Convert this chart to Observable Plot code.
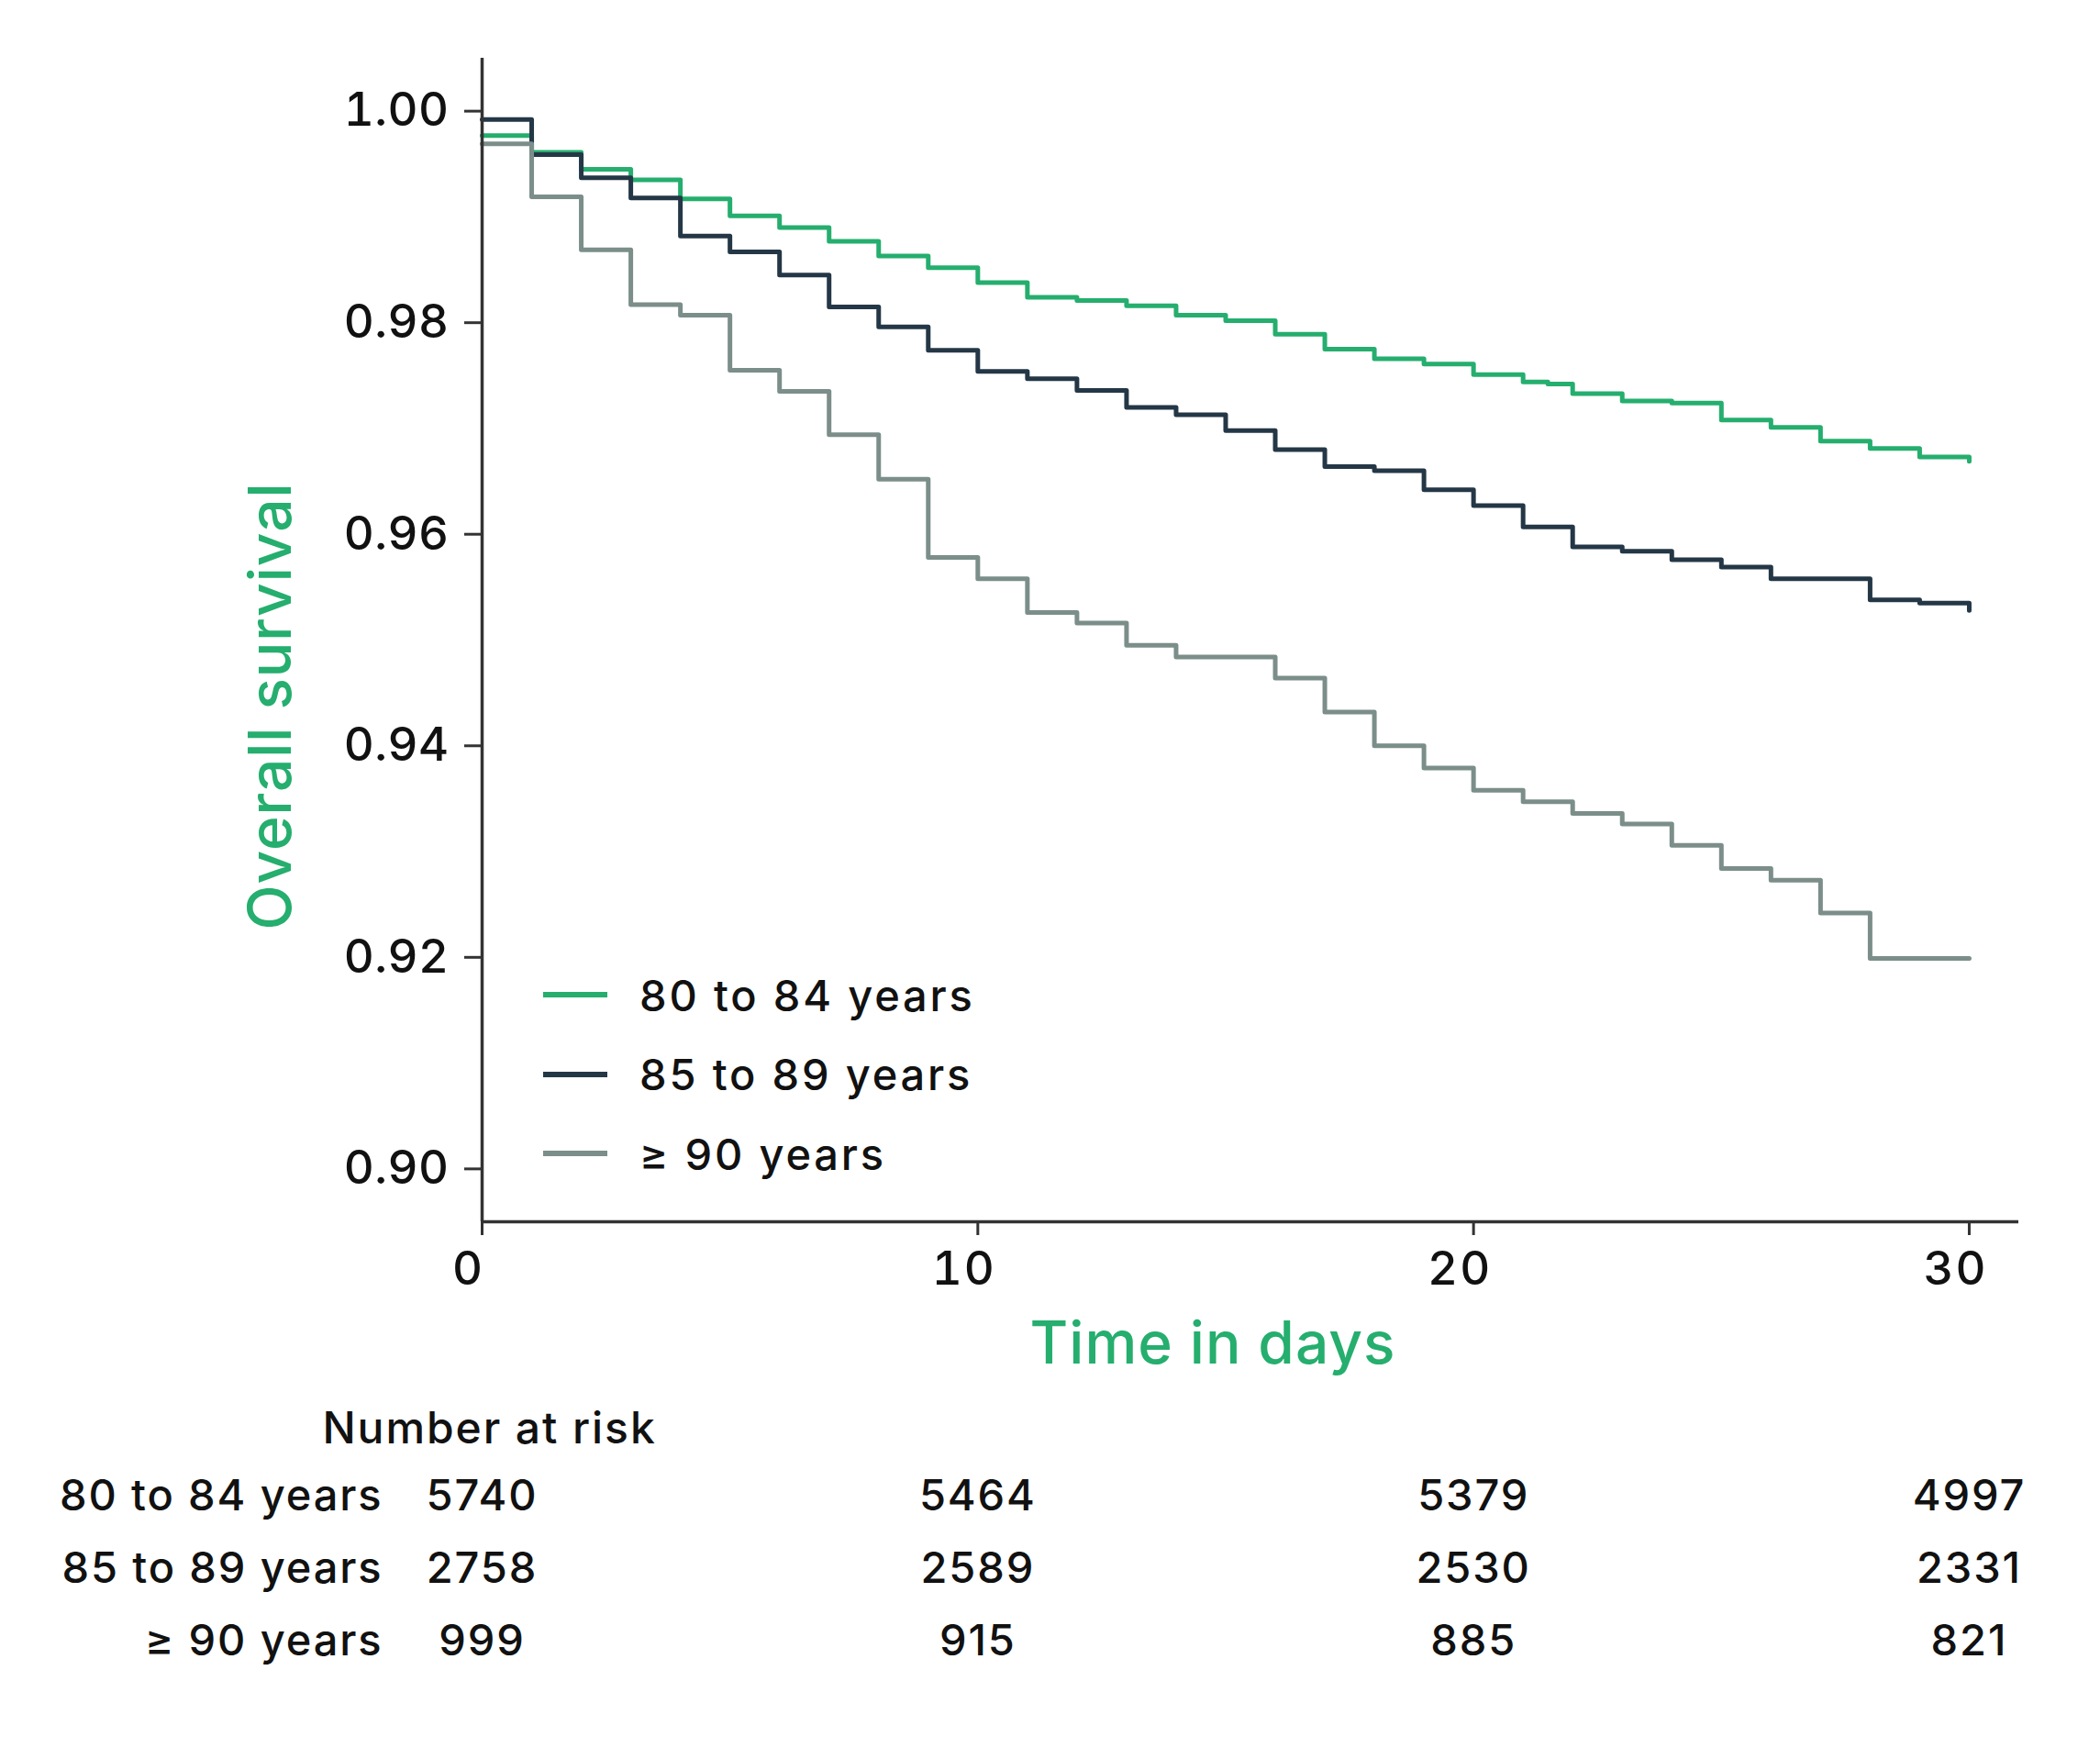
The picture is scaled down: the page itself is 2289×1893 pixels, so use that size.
<!DOCTYPE html>
<html>
<head>
<meta charset="utf-8">
<script src="https://cdn.jsdelivr.net/npm/d3@7"></script>
<script src="https://cdn.jsdelivr.net/npm/@observablehq/plot@0.6"></script>
<style>
  html, body { margin: 0; padding: 0; background: #fff; }
  #wrap { position: relative; width: 2289px; height: 1893px; font-family: Inter, "DejaVu Sans", sans-serif; font-weight: 500; }
  #wrap svg text { letter-spacing: 0.04em; font-weight: 500; }
  #wrap svg .ytick text { letter-spacing: 0.01em; }
  #wrap svg .atitle text { letter-spacing: 0.015em; }
  #legend { position: absolute; left: 592px; top: 1041px; }
  #legend .row { display: flex; align-items: center; height: 86.5px; }
  #legend .sw { width: 70px; height: 6px; margin-right: 35px; }
  #legend .lab { font-size: 47px; color: #111; letter-spacing: 0.06em; line-height: 1; font-weight: 500; }
</style>
</head>
<body>
<div id="wrap"></div>
<script>
// ---- data ----
const groups = ["80 to 84 years", "85 to 89 years", "\u2265 90 years"];
const colors = ["#25AE6E", "#243746", "#7B8E8A"];
const days = [0,1,2,3,4,5,6,7,8,9,10,11,12,13,14,15,16,17,18,19,20,21,21.5,22,23,24,25,26,27,28,29,30];
const surv80 = [0.9977,0.9961,0.9945,0.9935,0.9917,0.9901,0.9890,0.9877,0.9863,0.9852,0.9838,0.9824,0.9821,0.9816,0.9807,0.9802,0.9789,0.9775,0.9766,0.9761,0.9751,0.9744,0.9742,0.9733,0.9726,0.9724,0.9708,0.9701,0.9688,0.9681,0.9673,0.9669];
const surv85 = [0.9992,0.9959,0.9937,0.9918,0.9882,0.9867,0.9845,0.9815,0.9796,0.9774,0.9754,0.9747,0.9736,0.9720,0.9713,0.9698,0.9680,0.9664,0.9660,0.9642,0.9627,0.9607,0.9607,0.9588,0.9584,0.9576,0.9569,0.9558,0.9558,0.9538,0.9535,0.9528];
const surv90 = [0.9969,0.9919,0.9869,0.9817,0.9807,0.9755,0.9735,0.9694,0.9652,0.9578,0.9558,0.9526,0.9516,0.9495,0.9484,0.9484,0.9464,0.9432,0.9400,0.9379,0.9358,0.9347,0.9347,0.9336,0.9326,0.9306,0.9284,0.9273,0.9242,0.9199,0.9199,0.9199];
const yTicks = [0.90, 0.92, 0.94, 0.96, 0.98, 1.00];
const xTicks = [0, 10, 20, 30];
const xDomain = [0, 31];
const yDomain = [0.895, 1.005];
const riskDays = [0, 10, 20, 30];
const risk80 = [5740, 5464, 5379, 4997];
const risk85 = [2758, 2589, 2530, 2331];
const risk90 = [999, 915, 885, 821];
const yLabel = "Overall survival";
const xLabel = "Time in days";
const riskTitle = "Number at risk";

// ---- build tables ----
const survSeries = [surv80, surv85, surv90];
const curves = groups.flatMap((g, i) => days.map((d, j) => ({group: g, day: d, surv: survSeries[i][j]})));
const riskSeries = [risk80, risk85, risk90];
const risk = groups.flatMap((g, i) => riskDays.map((d, j) => ({group: g, day: d, n: riskSeries[i][j]})));

const axisColor = "#333";
const green = colors[0];
const font = "Inter, 'DejaVu Sans', sans-serif";

const main = Plot.plot({
  width: 2289,
  height: 1510,
  marginLeft: 525,
  marginRight: 89,
  marginTop: 63,
  marginBottom: 179,
  style: {fontFamily: font, color: "#111", background: "#fff"},
  x: {domain: xDomain},
  y: {domain: yDomain},
  color: {domain: groups, range: colors},
  marks: [
    Plot.line(curves, {x: "day", y: "surv", stroke: "group", z: "group", curve: "step-after", strokeWidth: 5}),
    Plot.ruleX([xDomain[0]], {stroke: axisColor, strokeWidth: 3.5}),
    Plot.ruleY([yDomain[0]], {stroke: axisColor, strokeWidth: 3.5}),
    Plot.axisY({ticks: yTicks, tickFormat: d3.format(".2f"), tickSize: 19, tickPadding: 17, fontSize: 51, stroke: axisColor, strokeWidth: 3, label: null, className: "ytick"}),
    Plot.axisX({ticks: xTicks, tickFormat: () => "", tickSize: 15, stroke: axisColor, strokeWidth: 3, label: null}),
    Plot.axisX({ticks: xTicks, tickFormat: d3.format("d"), tickSize: 0, tickPadding: 32, fontSize: 51, label: null, dx: -15}),
    Plot.text([yLabel], {frameAnchor: "left", rotate: -90, dx: -229, dy: 72, fontSize: 64, fill: green, lineAnchor: "middle", textAnchor: "middle", className: "atitle"}),
    Plot.text([xLabel], {frameAnchor: "bottom", dx: -41, dy: 134, fontSize: 64, fill: green, lineAnchor: "middle", textAnchor: "middle", className: "atitle"})
  ]
});

const table = Plot.plot({
  width: 2289,
  height: 383,
  marginLeft: 525,
  marginRight: 89,
  marginTop: 0,
  marginBottom: 0,
  style: {fontFamily: font, color: "#111", background: "#fff"},
  x: {domain: xDomain, axis: null},
  y: {type: "point", domain: groups, range: [120, 278], padding: 0},
  marks: [
    Plot.axisY({tickSize: 0, tickPadding: 108, fontSize: 47, label: null}),
    Plot.text(risk, {x: "day", y: "group", text: d => String(d.n), fontSize: 47, fill: "#111"}),
    Plot.text([riskTitle], {frameAnchor: "top-left", dx: 8, dy: 47, lineAnchor: "middle", textAnchor: "middle", fontSize: 48, fill: "#111"})
  ]
});

const wrap = document.getElementById("wrap");
main.style.display = "block";
table.style.display = "block";
wrap.appendChild(main);
wrap.appendChild(table);

// legend (overlay inside the plot area)
const legend = document.createElement("div");
legend.id = "legend";
groups.forEach((g, i) => {
  const row = document.createElement("div");
  row.className = "row";
  const sw = document.createElement("div");
  sw.className = "sw";
  sw.style.background = colors[i];
  const lab = document.createElement("span");
  lab.className = "lab";
  lab.textContent = g;
  row.appendChild(sw);
  row.appendChild(lab);
  legend.appendChild(row);
});
wrap.appendChild(legend);
</script>
</body>
</html>
